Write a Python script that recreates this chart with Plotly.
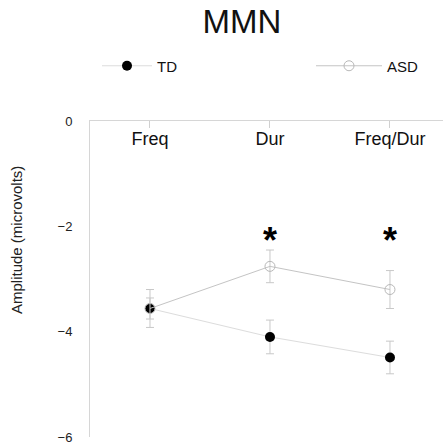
import plotly.graph_objects as go

categories = ["Freq", "Dur", "Freq/Dur"]
td_values = [-3.56, -4.10, -4.49]
td_errors = [0.20, 0.32, 0.31]
asd_values = [-3.56, -2.76, -3.20]
asd_errors = [0.36, 0.31, 0.36]
y_ticks = [0, -2, -4, -6]
sig_categories = [1, 2]
sig_label = "*"
sig_level = -2.26

x_pos = list(range(len(categories)))
font = "Liberation Sans, Arial, sans-serif"

PL, PT, PW, PH = 90, 121, 353, 316  # plot area in px


def px_x(p):
    return (p - PL) / PW


def px_y(p):
    return (PT + PH - p) / PH


fig = go.Figure()
fig.add_trace(go.Scatter(
    x=x_pos, y=td_values, name="TD", mode="lines+markers",
    line=dict(color="#dcdcdc", width=1),
    marker=dict(symbol="circle", size=10, color="black"),
    error_y=dict(type="data", array=td_errors, color="#c8c8c8", thickness=1, width=4),
    legend="legend",
))
fig.add_trace(go.Scatter(
    x=x_pos, y=asd_values, name="ASD", mode="lines+markers",
    line=dict(color="#c4c4c4", width=1),
    marker=dict(symbol="circle-open", size=10, color="#b8b8b8", line=dict(width=1)),
    error_y=dict(type="data", array=asd_errors, color="#c8c8c8", thickness=1, width=4),
    legend="legend2",
))
# invisible trace on the label axis so it is drawn
fig.add_trace(go.Scatter(x=x_pos, y=[None] * len(x_pos), xaxis="x2", showlegend=False,
                         hoverinfo="skip"))

for i in sig_categories:
    fig.add_annotation(x=x_pos[i], y=sig_level, text="<b>" + sig_label + "</b>",
                       showarrow=False, font=dict(size=36, color="black", family=font),
                       xanchor="center", yanchor="middle")

fig.add_annotation(xref="x domain", yref="y domain", x=px_x(16), y=px_y(240),
                   text="Amplitude (microvolts)", showarrow=False, textangle=-90,
                   xanchor="center", yanchor="middle",
                   font=dict(size=15, color="#222", family=font))

legend_common = dict(orientation="h", xanchor="left", yanchor="middle", y=px_y(66),
                     font=dict(size=15, color="#111", family=font),
                     bgcolor="rgba(0,0,0,0)")

fig.update_layout(
    width=443, height=446,
    margin=dict(l=PL, r=443 - PL - PW, t=PT, b=446 - PT - PH),
    paper_bgcolor="white", plot_bgcolor="white",
    font=dict(family=font, color="#222"),
    title=dict(text="MMN", x=0.546, xanchor="center", y=1 - 21 / 446, yanchor="middle",
               font=dict(size=33, color="#111", family=font)),
    showlegend=True,
    legend=dict(x=px_x(97), itemwidth=50, **legend_common),
    legend2=dict(x=px_x(311), itemwidth=66, **legend_common),
    xaxis=dict(range=[-0.5, 2.442], side="top", tickmode="array", tickvals=x_pos,
               showticklabels=False, showline=True, linecolor="#d6d6d6", linewidth=1,
               ticks="inside", ticklen=7, tickcolor="#d0d0d0", showgrid=False,
               zeroline=False),
    xaxis2=dict(overlaying="x", matches="x", anchor="free", position=px_y(126),
                side="bottom", tickmode="array", tickvals=x_pos, ticktext=categories,
                showline=False, ticks="", showgrid=False, zeroline=False,
                tickfont=dict(size=18, color="#111", family=font)),
    yaxis=dict(range=[-6, 0], tickmode="array", tickvals=y_ticks, showline=True,
               linecolor="#d6d6d6", linewidth=1, ticks="", showgrid=False, zeroline=False,
               ticklabelstandoff=14, tickfont=dict(size=13, color="#222", family=font)),
)

fig.write_html("out.html")
